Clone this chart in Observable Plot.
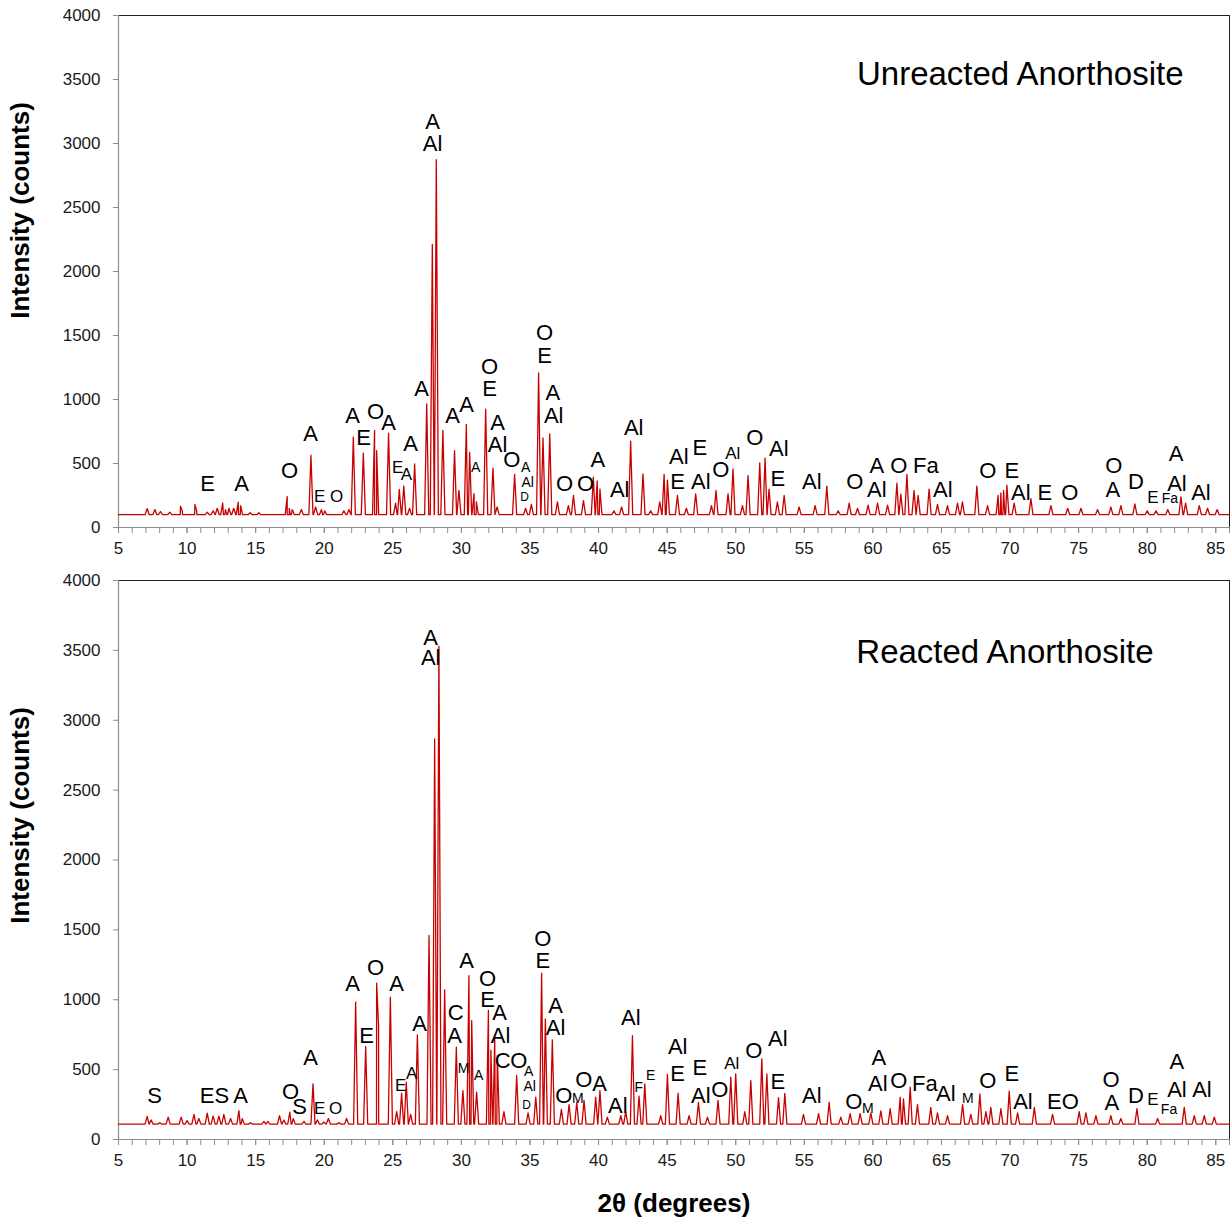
<!DOCTYPE html>
<html><head><meta charset="utf-8">
<script src="https://cdn.jsdelivr.net/npm/d3@7"></script>
<script src="https://cdn.jsdelivr.net/npm/@observablehq/plot@0.6"></script>
<style>
body{margin:0;background:#fff;}
#wrap{position:relative;width:1231px;height:1220px;background:#fff;}
#wrap svg{position:absolute;left:0;}
</style></head><body><div id="wrap"></div>
<script>
// ---------- data ----------
const xMajorTicks = [5,10,15,20,25,30,35,40,45,50,55,60,65,70,75,80,85];
const xMinorTicks = d3.range(5, 87, 1);
const yTicks = [0,500,1000,1500,2000,2500,3000,3500,4000];

// Unreacted anorthosite: peak positions (2θ) and intensities (counts)
const topTheta = [7.09,7.65,8.06,8.74,9.52,9.65,10.57,10.7,11.47,11.9,12.2,12.6,12.8,13.05,13.4,13.73,13.9,14.6,15.23,
17.3,17.45,17.67,18.33,19.03,19.37,19.8,20.03,21.43,21.8,22.12,22.85,23.67,23.82,24.69,25.2,25.47,25.8,26.22,26.59,
27.47,27.88,28.17,28.65,29.5,29.82,30.36,30.6,30.92,31.09,31.77,32.3,32.6,33.88,34.68,35.1,35.63,35.95,36.44,37.0,
37.8,38.17,38.9,39.62,39.9,40.1,41.12,41.68,42.34,43.24,43.8,44.46,44.78,45.02,45.75,46.4,47.08,48.23,48.56,49.44,
49.8,50.49,50.9,51.75,52.14,52.43,53.04,53.53,54.62,55.79,56.64,57.47,58.27,58.88,59.65,60.34,61.07,61.75,62.04,
62.48,63.0,63.3,64.1,64.71,65.44,66.17,66.53,67.58,68.36,69.13,69.33,69.53,69.77,70.3,71.52,72.98,74.2,75.17,76.38,
77.35,78.08,79.1,80.0,80.64,81.5,82.46,82.8,83.8,84.4,85.1];
const topCounts = [148,140,125,120,166,130,180,130,120,130,150,190,140,150,150,198,170,115,115,
242,150,140,140,565,160,140,130,130,140,705,580,758,600,737,190,297,323,150,497,
966,2211,2873,758,600,290,805,588,265,200,924,464,160,414,150,180,1208,700,732,200,
170,250,210,393,365,300,130,160,674,419,130,200,415,370,250,150,263,170,289,263,
458,170,406,505,542,300,200,250,160,170,323,130,190,150,175,190,175,346,260,
414,290,250,300,180,170,190,200,323,170,250,270,290,330,190,225,170,150,150,140,
160,170,185,130,130,140,240,190,170,150,140];
const topBaseline = 100;

// Reacted anorthosite
const botTheta = [7.09,7.38,8.01,8.62,9.57,10.0,10.5,10.86,11.47,11.9,12.32,12.68,13.17,13.78,14.02,14.63,15.6,15.89,
16.74,17.06,17.49,17.74,18.52,19.18,19.5,19.98,20.3,21.07,21.63,22.29,23.02,23.82,23.96,24.82,25.28,25.64,25.98,26.3,
26.79,27.64,28.05,28.36,28.78,29.63,30.11,30.55,30.75,31.11,31.97,32.15,32.43,32.62,33.1,34.03,34.86,35.42,35.85,
36.12,36.63,37.29,37.85,38.41,38.94,39.79,40.1,40.64,41.62,41.98,42.47,42.95,43.37,44.53,45.02,45.8,46.6,47.28,
47.94,48.71,49.64,50.0,50.66,51.1,51.9,52.27,53.12,53.58,54.94,56.04,56.81,57.66,58.34,59.07,59.85,60.58,61.26,
61.99,62.23,62.72,63.25,64.22,64.71,65.44,66.54,67.14,67.8,68.24,68.6,69.33,69.94,70.55,71.77,73.1,75.04,75.53,
76.26,77.35,78.08,79.25,80.76,82.7,83.43,84.16,84.89];
const botCounts = [165,140,120,160,160,135,179,150,188,167,167,179,150,207,150,120,130,130,
170,140,195,150,130,398,140,125,150,120,150,983,665,1119,815,1018,200,331,410,180,
749,1460,2867,3530,1071,661,350,1173,851,339,923,640,720,600,200,458,190,303,1190,
863,713,215,250,265,280,303,350,160,170,200,744,310,398,170,465,331,170,265,
160,280,446,470,200,422,577,470,300,330,180,185,267,160,185,185,190,205,220,
303,290,374,250,230,190,170,250,180,327,200,230,220,346,190,230,180,200,190,
170,170,150,220,150,230,170,170,160];
const botBaseline = 110;

// phase labels: [text, 2θ, counts]
const topLabels = [["E",11.49,344],["A",13.97,344],["O",17.47,445],["A",19.0,734],["A",22.07,875],["E",22.87,703],
["O",23.75,906],["A",24.69,820],["A",26.3,656],["A",27.1,1086],["A",27.9,3172],["Al",27.9,3000],["A",29.36,875],
["A",30.38,961],["O",32.06,1258],["E",32.06,1086],["A",32.64,820],["Al",32.64,648],["O",33.67,531],["O",36.07,1516],
["E",36.07,1344],["A",36.66,1055],["Al",36.73,875],["O",37.53,344],["O",39.06,344],["A",39.94,531],["Al",41.54,297],
["Al",42.56,781],["Al",45.85,555],["E",45.77,352],["E",47.38,625],["Al",47.45,352],["O",48.91,453],["O",51.39,703],
["Al",53.14,617],["E",53.07,383],["Al",55.55,352],["O",58.68,352],["A",60.29,477],["Al",60.29,297],["O",61.89,477],
["Fa",63.86,477],["Al",65.1,297],["O",68.38,445],["E",70.13,445],["Al",70.79,266],["E",72.54,266],["O",74.36,266],
["O",77.57,477],["A",77.5,297],["D",79.18,352],["A",82.1,578],["Al",82.17,344],["Al",83.92,266]];
const topLabelsMedium = [["E",19.66,242],["O",20.9,242],["E",25.35,469],["A",26.0,414],["Al",49.78,578],["E",80.42,234]];
const topLabelsSmall = [["A",31.04,469],["A",34.69,469],["Al",34.83,352],["Fa",81.66,227]];
const topLabelsTiny = [["D",34.61,234]];

const botLabels = [["S",7.63,315],["ES",12.0,315],["A",13.9,315],["O",17.55,343],["S",18.2,236],["A",19.0,587],
["A",22.07,1116],["O",23.75,1231],["A",25.28,1116],["E",23.09,744],["A",26.95,830],["A",27.76,3592],["Al",27.76,3449],
["C",29.58,902],["A",29.51,744],["A",30.38,1281],["O",31.91,1152],["E",31.91,995],["A",32.79,902],["Al",32.86,744],
["C",33.01,565],["O",34.18,565],["O",35.93,1438],["E",35.93,1281],["A",36.87,959],["Al",36.87,801],["O",37.46,315],
["O",38.92,429],["A",40.08,401],["Al",41.4,243],["Al",42.35,873],["Al",45.77,665],["E",45.77,472],["E",47.38,515],
["Al",47.45,315],["O",48.84,351],["O",51.32,637],["Al",53.07,723],["E",53.07,415],["Al",55.55,315],["O",58.61,272],
["A",60.43,587],["Al",60.36,401],["O",61.89,422],["Fa",63.79,401],["Al",65.32,329],["O",68.38,422],["E",70.13,472],
["Al",70.94,272],["EO",73.86,272],["O",77.36,429],["A",77.43,265],["D",79.18,315],["A",82.17,558],["Al",82.17,351],
["Al",83.99,351]];
const botLabelsMedium = [["E",19.66,222],["O",20.83,222],["E",25.57,386],["A",26.37,472],["Al",49.71,544],["E",80.42,286]];
const botLabelsSmall = [["M",30.16,508],["A",31.26,458],["A",34.9,487],["Al",34.98,379],["M",38.48,293],["F",42.93,372],
["E",43.8,458],["M",59.63,222],["M",66.93,293],["Fa",81.59,215]];
const botLabelsTiny = [["D",34.76,243]];

// ---------- drawing ----------
const FONT = '"Liberation Sans", Arial, Helvetica, sans-serif';
const HW = 0.15; // half base width of a drawn peak (style)
function spectrum(thetas, counts, base) {
  const pts = [{t: 5, c: base}, {t: 86, c: base}];
  thetas.forEach((t, i) => { pts.push({t: t - HW, c: base}, {t, c: counts[i]}, {t: t + HW, c: base}); });
  return pts.sort((a, b) => a.t - b.t);
}
function labelMarks(arr, size) {
  return Plot.text(arr, {x: d => d[1], y: d => d[2], text: d => d[0], fontSize: size, fill: "#000", lineAnchor: "middle"});
}
function panel(o) {
  return Plot.plot({
    width: 1231, height: o.height,
    marginTop: 15, marginBottom: o.mb, marginLeft: 118, marginRight: 2,
    x: {domain: [5, 86]},
    y: {domain: [0, 4000]},
    style: {fontFamily: FONT, background: "transparent", overflow: "visible"},
    marks: [
      Plot.frame({stroke: "#222", strokeWidth: 1}),
      Plot.ruleY([0], {stroke: "#8c8c8c", strokeWidth: 1.2}),
      Plot.ruleX([5], {stroke: "#8c8c8c", strokeWidth: 1.2}),
      Plot.axisY({ticks: yTicks, tickSize: 5, tickPadding: 13, fontSize: 17, stroke: "#8c8c8c", fill: "#1a1a1a", tickFormat: d3.format("d"), label: null}),
      Plot.axisX({ticks: xMinorTicks, tickSize: 6, tickFormat: () => "", stroke: "#8c8c8c", label: null}),
      Plot.axisX({ticks: xMajorTicks, tickSize: 6, tickPadding: 8, fontSize: 17, stroke: "#8c8c8c", fill: "#1a1a1a", tickFormat: d3.format("d"), label: null}),
      Plot.line(spectrum(o.theta, o.counts, o.base), {x: "t", y: "c", stroke: "#c80000", strokeWidth: 1.3}),
      labelMarks(o.labels, 22), labelMarks(o.medium, 17), labelMarks(o.small, 14), labelMarks(o.tiny, 12),
      Plot.text([o.title], {frameAnchor: "top-right", dx: o.titleDx, dy: o.titleDy, textAnchor: "end", lineAnchor: "middle", fontSize: 33, fill: "#000"}),
      Plot.text(["Intensity (counts)"], {frameAnchor: "top-left", dx: -98, dy: o.yLabelDy, rotate: -90, textAnchor: "middle", lineAnchor: "middle", fontSize: 26, fontWeight: "bold", fill: "#000"}),
      ...(o.xLabel ? [Plot.text([o.xLabel], {frameAnchor: "bottom", dy: 64, textAnchor: "middle", lineAnchor: "middle", fontSize: 26, fontWeight: "bold", fill: "#000"})] : [])
    ]
  });
}
const wrap = document.getElementById("wrap");
const top1 = panel({height: 565, mb: 38, theta: topTheta, counts: topCounts, base: topBaseline,
  labels: topLabels, medium: topLabelsMedium, small: topLabelsSmall, tiny: topLabelsTiny,
  title: "Unreacted Anorthosite", titleDx: -46, titleDy: 59, yLabelDy: 195});
top1.style.top = "0px";
wrap.appendChild(top1);
const bot1 = panel({height: 655, mb: 81, theta: botTheta, counts: botCounts, base: botBaseline,
  labels: botLabels, medium: botLabelsMedium, small: botLabelsSmall, tiny: botLabelsTiny,
  title: "Reacted Anorthosite", titleDx: -76, titleDy: 72, yLabelDy: 235, xLabel: "2θ (degrees)"});
bot1.style.top = "565px";
wrap.appendChild(bot1);
</script></body></html>
